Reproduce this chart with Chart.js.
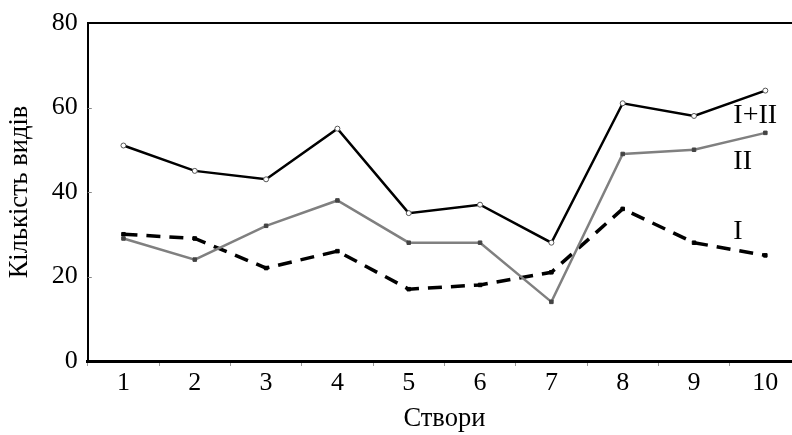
<!DOCTYPE html>
<html><head><meta charset="utf-8">
<script src="https://cdn.jsdelivr.net/npm/chart.js@4"></script>
<style>
html,body{margin:0;padding:0;background:#fff;overflow:hidden;}
#wrap{width:806px;height:435px;}
</style></head>
<body><div id="wrap"><canvas id="c" width="806" height="435"></canvas></div>
<script>
const categories = ['1','2','3','4','5','6','7','8','9','10'];
const seriesSum = [51, 45, 43, 55, 35, 37, 28, 61, 58, 64];   // I+II
const seriesII  = [29, 24, 32, 38, 28, 28, 14, 49, 50, 54];   // II
const seriesI   = [30, 29, 22, 26, 17, 18, 21, 36, 28, 25];   // I
const yTicks = [0, 20, 40, 60, 80];
const seriesNames = ['I+II', 'II', 'I'];

const FONT = "'Liberation Serif', 'Times New Roman', serif";

// annotation placement (style config, not data)
const labelPos = [
  {text: seriesNames[0], y: 58},
  {text: seriesNames[1], y: 47.2},
  {text: seriesNames[2], y: 30.6}
];

const decor = {
  id: 'decor',
  afterDraw(chart) {
    const ctx = chart.ctx, a = chart.chartArea;
    const xs = chart.scales.x, ys = chart.scales.y;
    ctx.save();
    ctx.strokeStyle = '#000'; ctx.lineWidth = 2;
    ctx.beginPath(); ctx.moveTo(a.left, a.top); ctx.lineTo(a.right + 5, a.top); ctx.stroke();
    ctx.strokeStyle = '#888'; ctx.lineWidth = 1;
    yTicks.slice(1, -1).forEach(v => {
      const py = Math.round(ys.getPixelForValue(v)) + 0.5;
      ctx.beginPath(); ctx.moveTo(a.left, py); ctx.lineTo(a.left + 4, py); ctx.stroke();
    });
    ctx.fillStyle = '#000';
    ctx.font = '28px ' + FONT;
    ctx.textAlign = 'left'; ctx.textBaseline = 'middle';
    const lx = xs.getPixelForValue(9) - 32;
    labelPos.forEach(l => ctx.fillText(l.text, lx, ys.getPixelForValue(l.y)));
    ctx.restore();
  }
};

new Chart(document.getElementById('c'), {
  type: 'line',
  data: {
    labels: categories,
    datasets: [
      {label: seriesNames[0], data: seriesSum, borderColor: '#000', borderWidth: 2.5,
       pointStyle: 'circle', pointRadius: 2.5, pointBackgroundColor: '#fff', pointBorderColor: '#555', pointBorderWidth: 1, tension: 0},
      {label: seriesNames[1], data: seriesII, borderColor: '#808080', borderWidth: 2.5,
       pointStyle: 'rect', pointRadius: 2.5, pointBackgroundColor: '#444', pointBorderColor: '#444', pointBorderWidth: 1, tension: 0},
      {label: seriesNames[2], data: seriesI, borderColor: '#000', borderWidth: 3.5, borderDash: [14, 9],
       pointStyle: 'rect', pointRadius: 2.5, pointBackgroundColor: '#000', pointBorderColor: '#000', pointBorderWidth: 1, tension: 0}
    ]
  },
  options: {
    responsive: false,
    animation: false,
    layout: {padding: {top: 8, right: 0, left: 4, bottom: 0}},
    plugins: {legend: {display: false}, tooltip: {enabled: false}},
    scales: {
      x: {
        type: 'category', offset: true,
        grid: {offset: true, drawOnChartArea: false, drawTicks: true, tickLength: 5, color: '#999', lineWidth: 1},
        border: {display: true, color: '#000', width: 3},
        ticks: {color: '#000', font: {family: FONT, size: 26}, padding: 2},
        title: {display: true, text: 'Створи', color: '#000', font: {family: FONT, size: 26.5}, padding: {top: 2, bottom: 0}}
      },
      y: {
        min: 0, max: 80,
        afterBuildTicks(scale) { scale.ticks = yTicks.map(v => ({value: v})); },
        grid: {display: true, drawOnChartArea: false, drawTicks: false},
        border: {display: true, color: '#000', width: 2},
        ticks: {color: '#000', font: {family: FONT, size: 26, lineHeight: 1}, padding: 10},
        title: {display: true, text: 'Кількість видів', color: '#000', font: {family: FONT, size: 26.5}, padding: {top: 0, bottom: 6}}
      }
    }
  },
  plugins: [decor]
});
</script></body></html>
